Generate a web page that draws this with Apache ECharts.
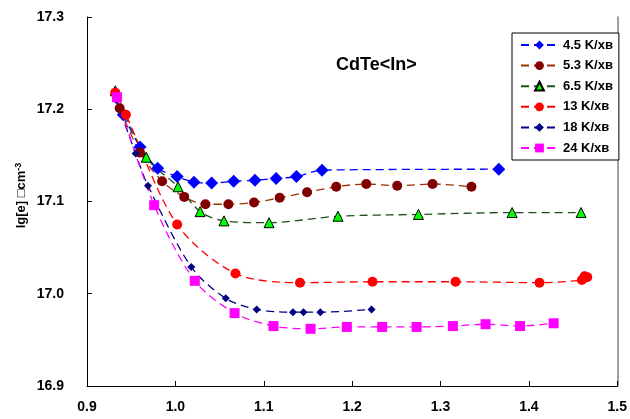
<!DOCTYPE html>
<html>
<head>
<meta charset="utf-8">
<script src="https://cdn.jsdelivr.net/npm/echarts@6/dist/echarts.min.js"></script>
<style>
  html, body { margin: 0; padding: 0; background: #fff; }
</style>
</head>
<body>
<div id="chart" style="width: 630px; height: 419px;"></div>
<script>
// series names
const names = ['4.5 K/хв', '5.3 K/хв', '6.5 K/хв', '13 K/хв', '18 K/хв', '24 K/хв'];

// 4.5 K/хв
const x45 = [0.941, 0.960, 0.980, 1.002, 1.021, 1.041, 1.066, 1.090, 1.114, 1.137, 1.166, 1.366];
const y45 = [17.194, 17.159, 17.136, 17.127, 17.121, 17.120, 17.122, 17.123, 17.125, 17.127, 17.134, 17.135];
// 5.3 K/хв
const x53 = [0.937, 0.960, 0.985, 1.010, 1.034, 1.060, 1.089, 1.118, 1.149, 1.182, 1.216, 1.251, 1.291, 1.335];
const y53 = [17.201, 17.153, 17.122, 17.105, 17.097, 17.097, 17.099, 17.104, 17.110, 17.116, 17.119, 17.117, 17.119, 17.116];
// 6.5 K/хв
const x65 = [0.932, 0.967, 1.003, 1.028, 1.055, 1.106, 1.184, 1.275, 1.381, 1.459];
const y65 = [17.220, 17.148, 17.116, 17.089, 17.079, 17.077, 17.084, 17.086, 17.088, 17.088];
// 13 K/хв
const x13 = [0.932, 0.944, 1.002, 1.068, 1.141, 1.223, 1.317, 1.412, 1.460, 1.463, 1.466];
const y13 = [17.218, 17.194, 17.075, 17.022, 17.012, 17.013, 17.013, 17.012, 17.015, 17.019, 17.018];
// 18 K/хв
const x18 = [0.933, 0.955, 0.969, 1.018, 1.057, 1.092, 1.133, 1.145, 1.164, 1.222];
const y18 = [17.210, 17.152, 17.117, 17.029, 16.995, 16.983, 16.980, 16.980, 16.980, 16.983];
// 24 K/хв
const x24 = [0.934, 0.976, 1.022, 1.067, 1.111, 1.153, 1.194, 1.234, 1.273, 1.314, 1.351, 1.390, 1.428];
const y24 = [17.213, 17.096, 17.014, 16.979, 16.965, 16.962, 16.964, 16.964, 16.964, 16.965, 16.967, 16.965, 16.968];

const xTicks = ['0.9', '1.0', '1.1', '1.2', '1.3', '1.4', '1.5'];
const yTicks = ['16.9', '17.0', '17.1', '17.2', '17.3'];

function zip(xs, ys) {
    return xs.map((x, i) => [x, ys[i]]);
}

const font = 'Liberation Sans, Arial, sans-serif';

function makeSeries(name, xs, ys, lineColor, symbol, size, fill, border) {
    return {
        name: name,
        type: 'line',
        data: zip(xs, ys),
        smooth: 0.3,
        symbol: symbol,
        symbolSize: size,
        showAllSymbol: true,
        lineStyle: { color: lineColor, width: 1.3, type: [8, 5] },
        itemStyle: {
            color: fill,
            borderColor: border || fill,
            borderWidth: border ? 1 : 0
        },
        emphasis: { disabled: true }
    };
}

const chart = echarts.init(document.getElementById('chart'));
chart.setOption({
    animation: false,
    textStyle: { fontFamily: font },
    title: {
        text: 'CdTe<In>',
        left: 331,
        top: 51,
        textStyle: { fontFamily: font, fontWeight: 'bold', fontSize: 18, color: '#000' }
    },
    legend: {
        orient: 'vertical',
        left: 512,
        top: 33,
        width: 113,
        padding: [5, 6, 5, 8],
        backgroundColor: '#fff',
        borderColor: '#000',
        borderWidth: 1,
        borderRadius: 0,
        itemWidth: 37,
        itemHeight: 11,
        itemGap: 6.6,
        textStyle: { fontFamily: font, fontWeight: 'bold', fontSize: 13, color: '#000', lineHeight: 14 },
        data: names
    },
    grid: { left: 87, right: 12, top: 17, bottom: 33 },
    xAxis: {
        type: 'value',
        min: 0.9,
        max: 1.5,
        interval: 0.1,
        axisLine: { show: true, lineStyle: { color: '#000', width: 1 } },
        axisTick: { show: true, inside: true, length: 5, lineStyle: { color: '#000' } },
        splitLine: { show: false },
        axisLabel: {
            margin: 14,
            fontFamily: font, fontWeight: 'bold', fontSize: 14, color: '#000',
            showMaxLabel: true, showMinLabel: true,
            formatter: v => xTicks[Math.round((v - 0.9) * 10)]
        }
    },
    yAxis: [{
        type: 'value',
        min: 16.9,
        max: 17.3,
        interval: 0.1,
        name: '{a|lg[e] \u25A1cm}{sup|-3}',
        nameLocation: 'middle',
        nameGap: 58,
        nameMoveOverlap: false,
        nameRotate: 90,
        nameTextStyle: {
            padding: [0, 0, 0, 12],
            rich: {
                a: { fontFamily: font, fontWeight: 'bold', fontSize: 13, color: '#000' },
                sup: { fontFamily: font, fontWeight: 'bold', fontSize: 9, color: '#000', verticalAlign: 'top', padding: [0, 0, 6, 0] }
            }
        },
        axisLine: { show: true, lineStyle: { color: '#000', width: 1 } },
        axisTick: { show: true, inside: true, length: 5, lineStyle: { color: '#000' } },
        splitLine: { show: false },
        axisLabel: {
            margin: 23,
            fontFamily: font, fontWeight: 'bold', fontSize: 14, color: '#000',
            formatter: v => yTicks[Math.round((v - 16.9) * 10)]
        }
    }, {
        type: 'value',
        position: 'right',
        min: 16.9,
        max: 17.3,
        axisLine: { show: true, lineStyle: { color: '#808080', width: 1.5 } },
        axisTick: { show: false },
        axisLabel: { show: false },
        splitLine: { show: false }
    }],
    series: [
        makeSeries(names[0], x45, y45, '#0000ff', 'diamond', 13, '#0000ff'),
        makeSeries(names[1], x53, y53, '#993300', 'circle', 10, '#800000'),
        makeSeries(names[2], x65, y65, '#1f4f1f', 'triangle', 10, '#00ff00', '#000'),
        makeSeries(names[3], x13, y13, '#ff0000', 'circle', 10, '#ff0000'),
        makeSeries(names[4], x18, y18, '#000080', 'diamond', 8, '#000080'),
        makeSeries(names[5], x24, y24, '#ff00ff', 'rect', 10, '#ff00ff')
    ]
});
</script>
</body>
</html>
